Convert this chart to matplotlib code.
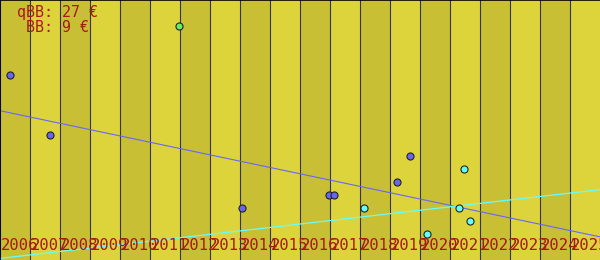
import matplotlib
matplotlib.use("Agg")
import matplotlib.pyplot as plt
import numpy as np

# years shown on the x axis
years = list(range(2006, 2026))

# price points (year, value) per series
blue_x = [2006.34, 2007.68, 2014.08, 2016.96, 2017.14, 2019.24, 2019.68]
blue_y = [18.47, 12.47, 5.20, 6.47, 6.47, 7.77, 10.37]
cyan_x = [2018.14, 2020.24, 2021.31, 2021.48, 2021.68]
cyan_y = [5.17, 2.57, 5.17, 9.07, 3.87]
green_x = [2011.98]
green_y = [23.37]

labels = ["qBB: 27 €", " BB: 9 €"]

light = "#ddd43c"
dark = "#c9bf35"
red = "#a81818"

fig = plt.figure(figsize=(6, 2.6), dpi=100)
ax = fig.add_axes([0, 0, 1, 1])
ax.set_xlim(2006, 2026)
ax.set_ylim(0, 26)

for i, yr in enumerate(years):
    ax.axvspan(yr, yr + 1, color=dark if i % 2 == 0 else light, lw=0, zorder=0)
    ax.axvline(yr, color="#333344", lw=0.8, zorder=1)
ax.axvspan(2026, 2027, color=dark, lw=0, zorder=0)

# trend lines (least squares)
xs = np.array([2006, 2026])
pb = np.polyfit(blue_x, blue_y, 1)
pc = np.polyfit(cyan_x, cyan_y, 1)
ax.plot(xs, np.polyval(pb, xs), color="#6666ff", lw=0.8, zorder=2)
ax.plot(xs, np.polyval(pc, xs), color="#66ffff", lw=0.9, zorder=2)

ax.scatter(blue_x, blue_y, s=26, color="#6666ee", edgecolor="#222222", lw=0.8, zorder=3)
ax.scatter(cyan_x, cyan_y, s=26, color="#66ffff", edgecolor="#222222", lw=0.8, zorder=3)
ax.scatter(green_x, green_y, s=26, color="#66ee66", edgecolor="#222222", lw=0.8, zorder=3)

for yr in years:
    ax.text(yr + 1 / 60, 0.04, str(yr), transform=ax.get_xaxis_transform(),
            family="DejaVu Sans Mono", fontsize=11.2, color=red, va="baseline", zorder=4)

ax.text(0.028, 0.933, labels[0], transform=ax.transAxes, family="DejaVu Sans Mono",
        fontsize=10.8, color=red, va="baseline")
ax.text(0.028, 0.876, labels[1], transform=ax.transAxes, family="DejaVu Sans Mono",
        fontsize=10.8, color=red, va="baseline")

ax.set_xticks([])
ax.set_yticks([])
for side in ["right", "bottom"]:
    ax.spines[side].set_visible(False)
for side in ["left", "top"]:
    ax.spines[side].set_color("black")
    ax.spines[side].set_linewidth(1.2)

fig.savefig("out.png", dpi=100)
